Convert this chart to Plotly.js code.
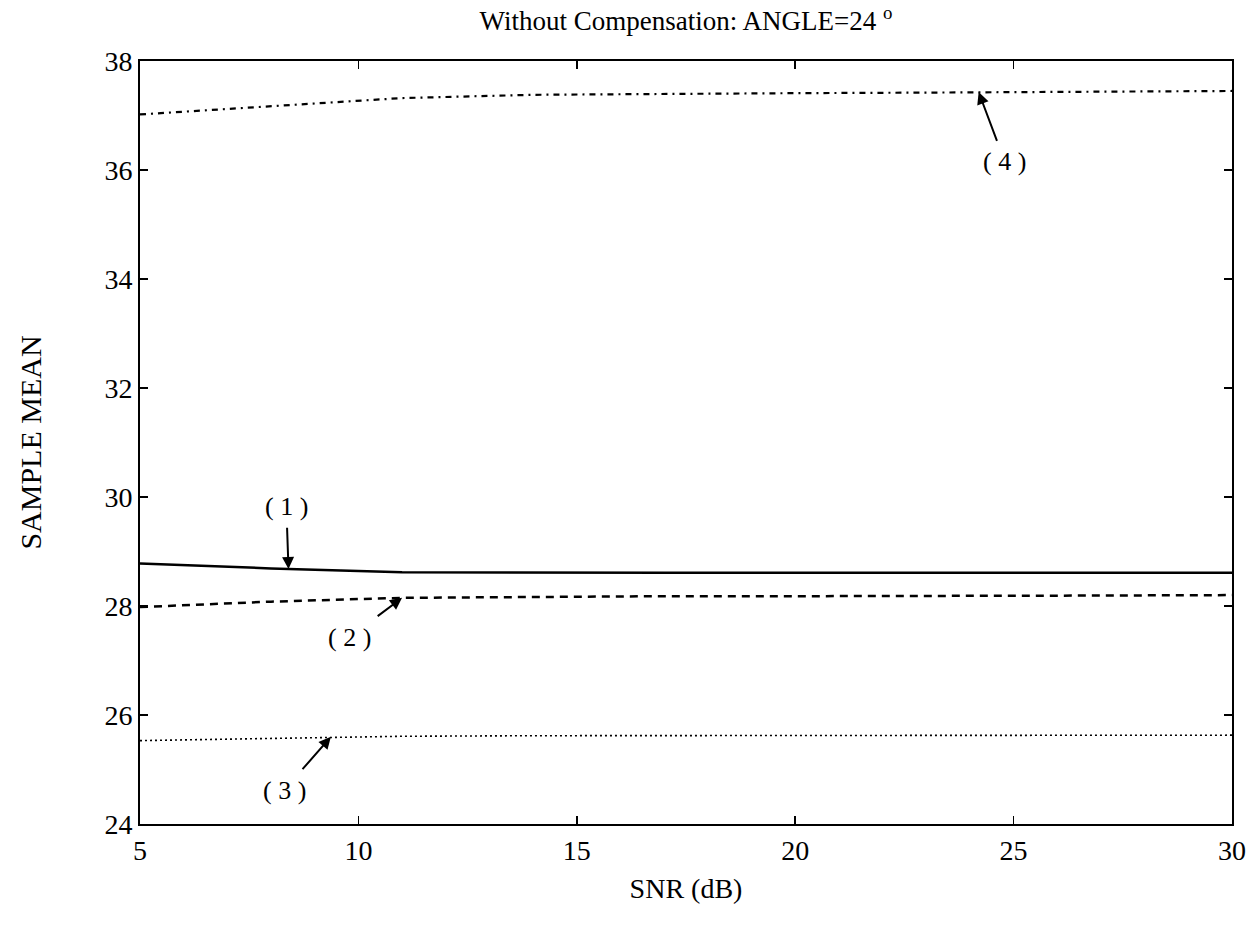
<!DOCTYPE html>
<html>
<head>
<meta charset="utf-8">
<script src="https://cdn.plot.ly/plotly-3.0.1.min.js"></script>
<style>
  html, body { margin: 0; padding: 0; background: #fff; }
  #chart { width: 1255px; height: 931px; }
</style>
</head>
<body>
<div id="chart"></div>
<script>
// SNR sweep (dB)
const snr = [5, 8, 11, 14, 17, 20, 23, 26, 30];

// Sample mean of the estimated angle for the four estimators
const mean1 = [28.78, 28.69, 28.62, 28.61, 28.61, 28.61, 28.61, 28.61, 28.61];
const mean2 = [27.98, 28.08, 28.15, 28.17, 28.18, 28.18, 28.18, 28.19, 28.20];
const mean3 = [25.53, 25.57, 25.61, 25.62, 25.62, 25.62, 25.62, 25.62, 25.63];
const mean4 = [37.02, 37.17, 37.32, 37.38, 37.40, 37.41, 37.42, 37.43, 37.45];

// Curve labels: text, its position, and the point on the curve the arrow points at
const labelText = ['( 1 )', '( 2 )', '( 3 )', '( 4 )'];
const textX = [8.35, 9.8, 8.3, 24.8];
const textY = [29.82, 27.43, 24.62, 36.15];
const headX = [8.4, 11.0, 9.37, 24.2];
const headY = [28.68, 28.15, 25.6, 37.43];

const yTicks = [24, 26, 28, 30, 32, 34, 36, 38];
const xTicks = [5, 10, 15, 20, 25, 30];

const serif = '"Liberation Serif", "DejaVu Serif", serif';

const traces = [
  { x: snr, y: mean1, mode: 'lines', line: { color: '#000', width: 2.5, dash: 'solid' } },
  { x: snr, y: mean2, mode: 'lines', line: { color: '#000', width: 2.5, dash: '8px,6px' } },
  { x: snr, y: mean3, mode: 'lines', line: { color: '#000', width: 1.6, dash: '2px,3px' } },
  { x: snr, y: mean4, mode: 'lines', line: { color: '#000', width: 2.2, dash: '6px,5px,2px,5px' } }
];

const annotations = labelText.map((t, i) => ({
  x: headX[i], y: headY[i], ax: textX[i], ay: textY[i],
  xref: 'x', yref: 'y', axref: 'x', ayref: 'y',
  text: t, showarrow: true, arrowhead: 2, arrowsize: 1.2,
  arrowwidth: 2, arrowcolor: '#000', borderpad: 6,
  font: { family: serif, size: 26, color: '#000' }
}));

const layout = {
  width: 1255, height: 931,
  margin: { l: 140, r: 23, t: 61, b: 107 },
  paper_bgcolor: '#fff', plot_bgcolor: '#fff',
  showlegend: false,
  title: {
    text: 'Without Compensation: ANGLE=24 <sup>o</sup>',
    x: 0.5, xref: 'paper', y: 0.978, yref: 'container', yanchor: 'middle',
    font: { family: serif, size: 27, color: '#000' }
  },
  xaxis: {
    range: [5, 30], tickvals: xTicks, ticktext: xTicks.map(String),
    ticks: 'inside', ticklen: 8, tickwidth: 1.5, tickcolor: '#000',
    showline: true, linewidth: 2, linecolor: '#000', mirror: 'ticks',
    showgrid: false, zeroline: false,
    tickfont: { family: serif, size: 28, color: '#000' },
    title: { text: 'SNR (dB)', standoff: 14, font: { family: serif, size: 28, color: '#000' } }
  },
  yaxis: {
    range: [24, 38], tickvals: yTicks, ticktext: yTicks.map(String),
    ticks: 'inside', ticklen: 8, tickwidth: 1.5, tickcolor: '#000',
    showline: true, linewidth: 2, linecolor: '#000', mirror: 'ticks',
    showgrid: false, zeroline: false,
    tickfont: { family: serif, size: 28, color: '#000' },
    title: { text: 'SAMPLE MEAN', standoff: 54, font: { family: serif, size: 30, color: '#000' } }
  },
  annotations: annotations
};

Plotly.newPlot('chart', traces, layout, { staticPlot: true, displayModeBar: false });
</script>
</body>
</html>
